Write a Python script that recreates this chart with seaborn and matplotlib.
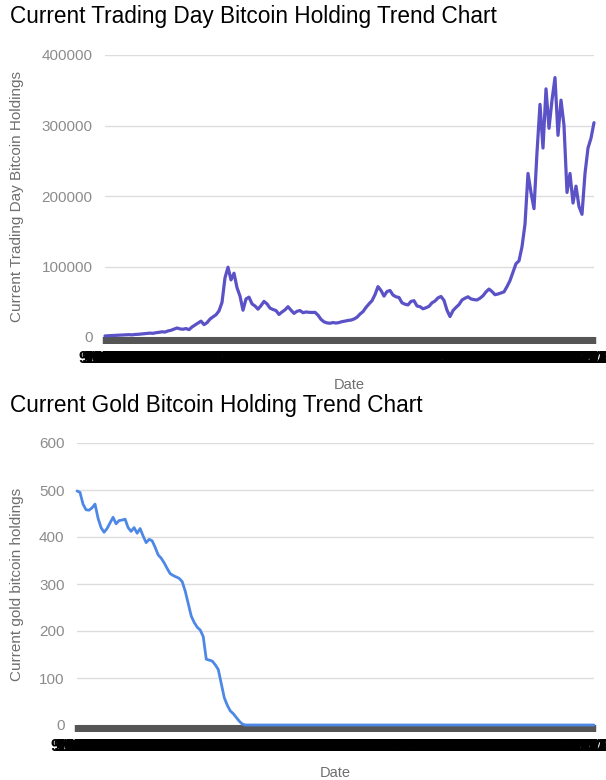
import matplotlib
matplotlib.use("Agg")
import matplotlib.pyplot as plt
import pandas as pd
import seaborn as sns

# Trading-day bitcoin holdings (read along the trading calendar)
trading_holdings = [
    1500, 1800, 2000, 2200, 2500, 2600, 2900, 3000, 3300, 3000,
    3600, 3800, 4200, 4500, 4900, 5500, 5200, 6100, 6600, 7400,
    7000, 8600, 9500, 11200, 12800, 11500, 11000, 12000, 10400, 14200,
    17000, 19800, 22500, 17500, 20300, 25400, 28600, 31500, 37000, 49000,
    84000, 99000, 81000, 90500, 70000, 58000, 38000, 54000, 56500, 47000,
    44000, 39500, 44500, 50500, 47000, 41000, 39000, 37500, 32000, 35500,
    38500, 43000, 38000, 33500, 36500, 37500, 34500, 35500, 35000, 34800,
    35000, 31000, 25000, 21500, 20000, 19500, 20500, 19800, 20500, 21800,
    22500, 23500, 24000, 25500, 28000, 32500, 36000, 42000, 47000, 51500,
    60000, 71500, 66000, 58000, 64500, 66000, 59500, 57000, 56000, 48500,
    46500, 45500, 50500, 51500, 44000, 43000, 40000, 41500, 43500, 48500,
    51000, 55500, 57500, 52000, 38000, 29000, 37500, 42000, 46000, 52500,
    55000, 57000, 54000, 53000, 52500, 55000, 58500, 64000, 68000, 64500,
    60000, 61000, 62500, 64000, 71500, 80000, 92000, 104000, 108000, 128000,
    160000, 232000, 205000, 182000, 262000, 330000, 268000, 352000, 296000, 336000,
    368000, 286000, 336000, 300000, 205000, 232000, 190000, 214000, 185000, 174000,
    232000, 268000, 282000, 304000,
]

# Gold bitcoin holdings
gold_holdings = [
    498, 495, 470, 458, 457, 462, 470, 440, 420, 410,
    418, 430, 442, 428, 435, 436, 438, 420, 412, 420,
    408, 418, 402, 388, 395, 392, 378, 362, 355, 345,
    333, 322, 318, 315, 312, 305, 285, 258, 232, 218,
    208, 202, 188, 140, 138, 136, 128, 118, 88, 58,
    42, 30, 24, 16, 8, 2,
] + [0] * 117

trading_dates = pd.date_range("2016-09-11", "2021-09-10", periods=len(trading_holdings))
gold_dates = pd.date_range("2016-09-12", "2021-09-10", periods=len(gold_holdings))


def fmt(d):
    return f"{d.month}/{d.day}/{d.year % 100:02d}"


trading_df = pd.DataFrame({"Date": [fmt(d) for d in trading_dates],
                           "Holdings": trading_holdings})
gold_df = pd.DataFrame({"Date": [fmt(d) for d in gold_dates],
                        "Holdings": gold_holdings})

sns.set_theme(style="white")
plt.rcParams["font.family"] = ["Liberation Sans", "DejaVu Sans"]

fig = plt.figure(figsize=(6.06, 7.8), dpi=100)
ax1 = fig.add_axes([105 / 606, 1 - 337 / 780, 489 / 606, 282 / 780])
ax2 = fig.add_axes([77 / 606, 1 - 725 / 780, 517 / 606, 282 / 780])


def style_axis(ax, n, ymax, step, ylabel, ylabel_x):
    ax.set_xlim(0, n - 1)
    ax.set_ylim(0, ymax)
    ax.set_yticks(range(0, ymax + 1, step))
    for s in ax.spines.values():
        s.set_visible(False)
    ax.yaxis.grid(True, color="#dddddd", linewidth=1)
    ax.xaxis.grid(False)
    ax.tick_params(axis="y", left=False, length=0, pad=9, labelsize=11,
                   labelcolor="#8c8c8c")
    ax.tick_params(axis="x", bottom=True, length=5, width=3.2, color="#555555",
                   pad=5, labelsize=11.5, labelcolor="black")
    for lbl in ax.get_xticklabels():
        lbl.set_fontweight("bold")
    ax.set_ylabel(ylabel, fontsize=11, color="#6e6e6e")
    ax.set_xlabel("Date", fontsize=10.5, color="#6e6e6e")
    ax.yaxis.set_label_coords(ylabel_x, 0.5)
    ax.xaxis.set_label_coords(0.5, -0.145)
    for line in ax.lines:
        line.set_clip_on(False)


sns.lineplot(data=trading_df, x="Date", y="Holdings", sort=False,
             color="#5a52c6", linewidth=2.3, ax=ax1)
style_axis(ax1, len(trading_holdings), 400000, 100000,
           "Current Trading Day Bitcoin Holdings", -0.166)

sns.lineplot(data=gold_df, x="Date", y="Holdings", sort=False,
             color="#4e88e6", linewidth=2.0, ax=ax2)
style_axis(ax2, len(gold_holdings), 600, 100,
           "Current gold bitcoin holdings", -0.1025)

fig.text(10 / 606, 1 - 17 / 780, "Current Trading Day Bitcoin Holding Trend Chart",
         fontsize=16.3, color="black", va="center", ha="left")
fig.text(10 / 606, 1 - 405 / 780, "Current Gold Bitcoin Holding Trend Chart",
         fontsize=16.3, color="black", va="center", ha="left")

fig.savefig("out.png", dpi=100)
